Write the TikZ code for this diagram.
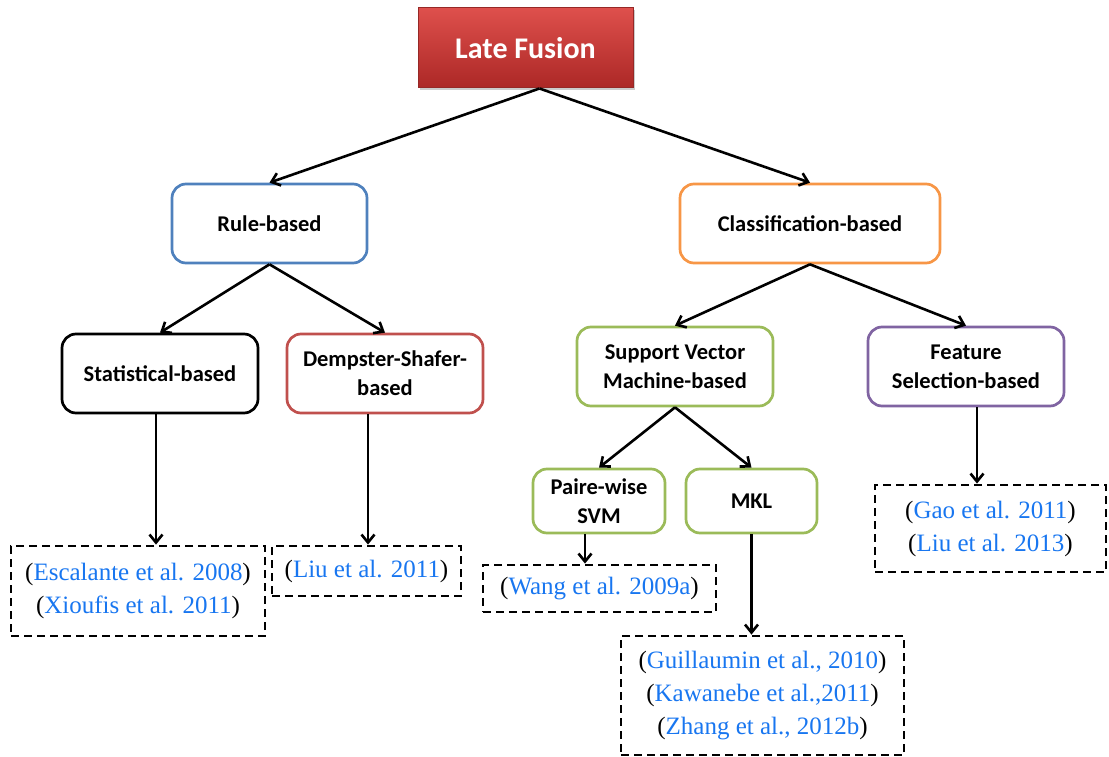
\documentclass[tikz,border=0pt]{standalone}
\usepackage{fontspec}
\setmainfont{Liberation Serif}
\newfontfamily\calfont{Carlito}
\usetikzlibrary{arrows.meta,shadows,calc}
\definecolor{cblue}{RGB}{24,118,240}
\definecolor{rulec}{RGB}{79,129,189}
\definecolor{classc}{RGB}{247,150,70}
\definecolor{dsc}{RGB}{192,80,77}
\definecolor{svmc}{RGB}{155,187,89}
\definecolor{featc}{RGB}{128,100,162}
\definecolor{lftop}{RGB}{222,80,76}
\definecolor{lfbot}{RGB}{172,40,38}
\definecolor{lfborder}{RGB}{150,40,38}
\newcommand\cb[1]{(\textcolor{cblue}{#1})}
\tikzset{
  box/.style={draw, line width=2.7pt, rounded corners=14pt, fill=white, align=center,
    font=\calfont\bfseries\fontsize{22.5}{29}\selectfont, inner sep=0pt},
  citebox/.style={draw, line width=2.8pt, dash pattern=on 8pt off 5pt, align=center,
    font=\fontsize{25}{33}\selectfont, inner sep=0pt},
  arr/.style={-{Straight Barb[length=8pt,width=13pt,line width=2.6pt]}, line width=2.6pt}
}
\begin{document}
\begin{tikzpicture}[x=1pt,y=-1pt]
\useasboundingbox (0,0) rectangle (1109,757);
\node[draw=lfborder, line width=1pt, top color=lftop, bottom color=lfbot, drop shadow={opacity=0.4},
  minimum width=215, minimum height=80, inner sep=0pt, text=white,
  font=\calfont\bfseries\fontsize{30}{34}\selectfont] (lf) at (525.5,48) {Late Fusion};
\node[box, draw=rulec, minimum width=195, minimum height=79] (rule) at (269.5,223.5) {Rule-based};
\node[box, draw=classc, minimum width=260, minimum height=79] (class) at (810,223.5) {Classification-based};
\node[box, draw=black, minimum width=196, minimum height=79] (stat) at (160,373.5) {Statistical-based};
\node[box, draw=dsc, minimum width=196, minimum height=79] (ds) at (385,373.5) {Dempster-Shafer-\\based};
\node[box, draw=svmc, minimum width=196, minimum height=79] (svm) at (675,366.5) {Support Vector\\Machine-based};
\node[box, draw=featc, minimum width=196, minimum height=79] (feat) at (966,366.5) {Feature\\Selection-based};
\node[box, draw=svmc, minimum width=132, minimum height=64] (pw) at (599,501) {Paire-wise\\SVM};
\node[box, draw=svmc, minimum width=131, minimum height=64] (mkl) at (751.5,501) {MKL};

\node[citebox, minimum width=254, minimum height=90] (esc) at (138,591) {\cb{Escalante et al. 2008}\\\cb{Xioufis et al. 2011}};
\node[citebox, minimum width=189, minimum height=50] (liu) at (366.5,571) {\cb{Liu et al. 2011}};
\node[citebox, minimum width=233, minimum height=47] (wang) at (599.5,588.5) {\cb{Wang et al. 2009a}};
\node[citebox, minimum width=283, minimum height=119] (gui) at (762.5,695.5) {\cb{Guillaumin et al., 2010}\\\cb{Kawanebe et al.,2011}\\\cb{Zhang et al., 2012b}};
\node[citebox, minimum width=231, minimum height=87] (gao) at (990.5,528.5) {\cb{Gao et al. 2011}\\\cb{Liu et al. 2013}};

\coordinate (lfs) at ($(lf.south)+(14,0)$);
\coordinate (a1) at ($(stat.south)+(-4,0)$);
\coordinate (a2) at ($(ds.south)+(-17,0)$);
\coordinate (a3) at ($(pw.south)+(-14,0)$);
\coordinate (a4) at (mkl.south);
\coordinate (a5) at ($(feat.south)+(11,0)$);
\draw[arr] (lfs) -- (rule.north);
\draw[arr] (lfs) -- (class.north);
\draw[arr] (rule.south) -- (stat.north);
\draw[arr] (rule.south) -- (ds.north);
\draw[arr] (class.south) -- (svm.north);
\draw[arr] (class.south) -- (feat.north);
\draw[arr] (svm.south) -- (pw.north);
\draw[arr] (svm.south) -- (mkl.north);
\draw[arr] (a1) -- (a1 |- esc.north);
\draw[arr] (a2) -- (a2 |- liu.north);
\draw[arr] (a3) -- (a3 |- wang.north);
\draw[arr] (a4) -- (a4 |- gui.north);
\draw[arr] (a5) -- (a5 |- gao.north);
\end{tikzpicture}
\end{document}
